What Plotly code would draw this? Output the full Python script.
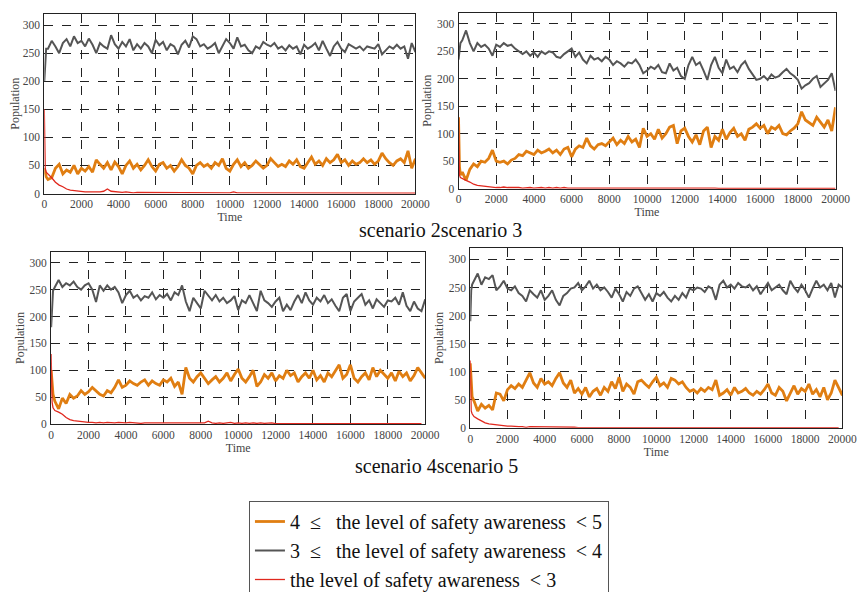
import plotly.graph_objects as go

# Sampling times (shared by all series)
time = [0, 50, 100] + list(range(200, 20001, 200))

# ---------------- scenario 2 ----------------
s2_orange = [45, 38, 30,
    25, 28, 45, 52, 35, 42, 38, 50, 35, 45, 40, 48, 38, 60, 52, 45, 55, 42, 56, 48,
    35, 50, 58, 45, 52, 42, 50, 60, 48, 40, 52, 55, 45, 50, 40, 48, 60, 50, 45, 35,
    50, 55, 48, 52, 45, 55, 50, 62, 45, 40, 52, 60, 48, 55, 45, 50, 58, 52, 45, 50,
    62, 55, 48, 52, 48, 58, 52, 60, 48, 45, 55, 65, 52, 58, 50, 62, 55, 60, 70, 55,
    60, 50, 58, 52, 55, 62, 55, 60, 52, 58, 72, 62, 55, 50, 58, 62, 55, 76, 45, 62]
s2_gray = [200, 245, 258,
    258, 272, 262, 250, 268, 275, 262, 280, 268, 272, 262, 276, 265, 250, 268, 262,
    258, 282, 266, 258, 270, 262, 275, 255, 266, 258, 268, 262, 250, 274, 264, 270,
    255, 266, 262, 248, 265, 272, 260, 280, 275, 262, 266, 258, 262, 268, 250, 262,
    275, 268, 258, 278, 262, 265, 255, 250, 262, 258, 270, 265, 262, 268, 258, 262,
    255, 264, 258, 262, 248, 265, 258, 262, 268, 255, 272, 258, 245, 262, 270, 258,
    252, 266, 262, 258, 262, 255, 262, 260, 258, 266, 248, 255, 262, 258, 265, 258,
    262, 240, 268, 252]
s2_red = [150, 45, 38,
    35, 28, 20, 15, 12, 8, 6, 5, 4, 4, 3, 3, 3, 2, 3, 4, 8, 4, 3, 2, 2, 3, 2, 1,
    2, 2, 1, 2, 1, 2, 1, 1, 2, 1, 1, 2, 1, 1, 1, 2, 1, 1, 1, 1, 1, 1, 1, 1, 2, 1,
    3, 1, 1, 1, 1, 0.5, 0.5, 0.5, 0.5, 0.5, 0.5, 0.5, 0.5, 0.5, 0.5, 0.5, 0.5, 0.5,
    0.5, 0.5, 0.5, 0.5, 0.5, 0.5, 0.5, 0.5, 0.5, 0.5, 0.5, 0.5, 0.5, 0.5, 0.5, 0.5,
    0.5, 0.5, 0.5, 0.5, 0.5, 0.5, 0.5, 0.5, 0.5, 0.5, 0.5, 0.5, 0.5, 0.5, 0.5, 0.5]

# ---------------- scenario 3 ----------------
s3_orange = [130, 40, 25,
    30, 15, 35, 45, 40, 50, 48, 55, 70, 50, 48, 50, 45, 52, 55, 62, 60, 68, 65, 62,
    70, 65, 68, 72, 65, 70, 62, 72, 75, 58, 72, 78, 75, 92, 78, 72, 80, 82, 78, 85,
    92, 80, 88, 82, 95, 85, 90, 75, 110, 95, 100, 90, 108, 92, 100, 112, 115, 82,
    105, 110, 95, 85, 98, 80, 105, 112, 75, 95, 88, 108, 90, 102, 110, 95, 100, 88,
    108, 112, 118, 110, 115, 100, 112, 108, 115, 100, 98, 105, 110, 118, 140, 125,
    120, 115, 130, 122, 112, 125, 105, 148]
s3_gray = [235, 258, 265,
    270, 288, 265, 250, 265, 258, 262, 255, 242, 262, 258, 265, 260, 262, 255, 250,
    245, 250, 242, 248, 240, 250, 245, 250, 248, 240, 238, 245, 250, 255, 240, 248,
    235, 228, 242, 235, 238, 232, 240, 235, 225, 232, 228, 222, 230, 228, 235, 225,
    210, 215, 222, 218, 225, 212, 210, 228, 215, 220, 205, 200, 225, 240, 225, 230,
    215, 198, 225, 240, 220, 210, 235, 218, 222, 212, 225, 232, 218, 208, 198, 200,
    205, 198, 208, 202, 205, 212, 218, 210, 205, 198, 182, 188, 192, 200, 205, 185,
    192, 198, 210, 178]
s3_red = [130, 25, 20,
    18, 15, 12, 8, 6, 5, 4, 3, 3, 2, 2, 3, 2, 2, 3, 2, 1, 2, 2, 1, 2, 2, 1, 2, 1,
    2, 1, 2, 1, 1, 2, 1, 1, 2, 1, 1, 2, 1, 1, 1, 1, 2, 1, 1, 1, 1, 1, 1, 1, 1, 1,
    1, 1, 1, 1, 1, 1, 1, 1, 1, 1, 1, 1, 1, 1, 1, 1, 1, 0.5, 0.5, 0.5, 0.5, 0.5,
    0.5, 0.5, 0.5, 0.5, 0.5, 0.5, 0.5, 0.5, 0.5, 0.5, 0.5, 0.5, 0.5, 0.5, 0.5, 0.5,
    0.5, 0.5, 0.5, 0.5, 0.5, 0.5, 0.5, 0.5, 0.5, 0.5, 0.5]

# ---------------- scenario 4 ----------------
s4_orange = [100, 80, 55,
    42, 28, 48, 38, 55, 48, 52, 62, 55, 60, 68, 62, 55, 52, 62, 58, 68, 82, 68, 72,
    80, 75, 72, 78, 82, 72, 80, 75, 72, 82, 78, 85, 70, 78, 55, 105, 85, 78, 88, 95,
    85, 75, 82, 88, 78, 85, 95, 80, 92, 102, 85, 78, 88, 100, 70, 78, 92, 85, 95, 80,
    90, 85, 100, 90, 95, 78, 88, 95, 85, 100, 82, 90, 78, 95, 88, 98, 110, 85, 92,
    110, 85, 78, 88, 95, 82, 105, 88, 100, 92, 85, 95, 80, 98, 88, 95, 80, 90, 105,
    95, 85]
s4_gray = [180, 230, 248,
    255, 268, 255, 262, 258, 265, 255, 250, 258, 262, 250, 227, 258, 248, 258, 250,
    255, 245, 225, 240, 248, 235, 240, 230, 238, 235, 245, 232, 240, 235, 242, 230,
    245, 240, 258, 228, 210, 235, 225, 215, 248, 238, 230, 240, 228, 235, 225, 230,
    238, 212, 230, 225, 240, 225, 210, 248, 230, 225, 218, 228, 235, 210, 222, 212,
    228, 240, 225, 245, 230, 222, 235, 228, 240, 225, 232, 220, 210, 235, 242, 210,
    228, 235, 242, 222, 230, 215, 232, 225, 218, 230, 228, 235, 222, 245, 220, 210,
    228, 215, 210, 232]
s4_red = [130, 40, 30,
    25, 22, 18, 12, 8, 6, 5, 4, 3, 3, 3, 2, 3, 2, 3, 2, 2, 3, 2, 2, 3, 2, 2, 1, 2,
    2, 1, 2, 1, 2, 2, 1, 2, 1, 2, 1, 2, 1, 2, 1, 2, 5, 2, 1, 2, 1, 2, 3, 1, 2, 1,
    2, 1, 2, 1, 2, 1, 2, 2, 0.5, 0.5, 0.5, 0.5, 0.5, 0.5, 0.5, 0.5, 0.5, 0.5, 0.5,
    0.5, 0.5, 0.5, 0.5, 0.5, 0.5, 0.5, 0.5, 0.5, 0.5, 0.5, 0.5, 0.5, 0.5, 0.5, 0.5,
    0.5, 0.5, 0.5, 0.5, 0.5, 0.5, 0.5, 0.5, 0.5, 0.5, 0.5, 0.5, 0.5]

# ---------------- scenario 5 ----------------
s5_orange = [115, 80, 55,
    48, 30, 42, 35, 40, 32, 62, 60, 48, 68, 75, 70, 78, 72, 85, 98, 80, 72, 88, 78,
    82, 75, 88, 98, 80, 72, 85, 62, 70, 60, 72, 55, 65, 70, 58, 72, 65, 82, 70, 90,
    65, 78, 72, 60, 82, 85, 78, 72, 82, 90, 75, 80, 72, 88, 85, 78, 82, 72, 65, 68,
    62, 70, 65, 72, 68, 85, 58, 62, 68, 58, 72, 62, 65, 70, 62, 58, 65, 60, 68, 78,
    62, 58, 72, 65, 48, 62, 75, 60, 70, 65, 78, 60, 68, 55, 72, 50, 62, 85, 70, 58]
s5_gray = [190, 245, 255,
    262, 275, 255, 268, 265, 272, 245, 252, 262, 248, 245, 252, 240, 235, 225, 245,
    238, 232, 245, 228, 235, 245, 228, 218, 235, 240, 248, 250, 258, 245, 252, 262,
    248, 255, 245, 250, 242, 232, 248, 238, 225, 242, 235, 248, 252, 240, 228, 238,
    225, 240, 235, 242, 232, 225, 235, 228, 240, 232, 248, 245, 250, 248, 242, 252,
    248, 228, 255, 262, 250, 255, 248, 258, 252, 250, 255, 245, 252, 238, 248, 258,
    245, 250, 255, 245, 238, 262, 250, 242, 255, 245, 232, 248, 262, 250, 255, 245,
    258, 232, 255, 250]
s5_red = [120, 30, 25,
    20, 16, 12, 9, 7, 6, 5, 4, 4, 3, 3, 2, 2, 2, 1, 2, 2, 1, 2, 1, 2, 2, 1, 2, 1,
    1, 2, 1, 0.5, 0.5, 0.5, 0.5, 0.5, 0.5, 0.5, 0.5, 0.5, 0.5, 0.5, 0.5, 0.5, 0.5,
    0.5, 0.5, 0.5, 0.5, 0.5, 0.5, 0.5, 0.5, 0.5, 0.5, 0.5, 0.5, 0.5, 0.5, 0.5, 0.5,
    0.5, 0.5, 0.5, 0.5, 0.5, 0.5, 0.5, 0.5, 0.5, 0.5, 0.5, 0.5, 0.5, 0.5, 0.5, 0.5,
    0.5, 0.5, 0.5, 0.5, 0.5, 0.5, 0.5, 0.5, 0.5, 0.5, 0.5, 0.5, 0.5, 0.5, 0.5, 0.5,
    0.5, 0.5, 0.5, 0.5, 0.5, 0.5, 0.5, 0.5, 0.5]

series_names = ["4\u2002≤\u00a0\u00a0\u00a0the level of safety awareness\u2002&lt;\u00a05",
                "3\u2002≤\u00a0\u00a0\u00a0the level of safety awareness\u2002&lt;\u00a04",
                "the level of safety awareness\u2002&lt;\u00a03"]
titles = ["scenario 2scenario 3", "scenario 4scenario 5"]
x_ticks = list(range(0, 20001, 2000))
x_tick_labels = [str(v) for v in x_ticks]
y_ticks = list(range(0, 301, 50))
y_tick_labels = [str(v) for v in y_ticks]

W, H = 867, 592
FONT = "Times New Roman, Liberation Serif, serif"
ORANGE, GRAY, RED = "#E07E12", "#555555", "#E0281E"

panels = [
    (s2_orange, s2_gray, s2_red, (34, 413, 6, 190)),
    (s3_orange, s3_gray, s3_red, (457, 842, 5, 185)),
    (s4_orange, s4_gray, s4_red, (41, 423, 250, 426)),
    (s5_orange, s5_gray, s5_red, (469, 849, 246, 430)),
]

fig = go.Figure()
layout = dict(
    width=W, height=H, margin=dict(l=0, r=0, t=0, b=0),
    paper_bgcolor="white", plot_bgcolor="white",
    font=dict(family=FONT, size=11, color="#333333"),
    showlegend=True,
    legend=dict(x=243 / W, y=1 - 505 / H, xanchor="left", yanchor="top",
                bordercolor="#555555", borderwidth=1, bgcolor="white",
                font=dict(family=FONT, size=20, color="#111111"),
                tracegroupgap=0, itemwidth=30),
)

for i, (orange, gray, red, (x0, x1, y0, y1)) in enumerate(panels):
    n = i + 1
    xa = "x" if n == 1 else f"x{n}"
    ya = "y" if n == 1 else f"y{n}"
    for vals, color, width, name in [(orange, ORANGE, 2.8, series_names[0]),
                                     (gray, GRAY, 2.0, series_names[1]),
                                     (red, RED, 1.3, series_names[2])]:
        fig.add_trace(go.Scatter(x=time, y=vals, mode="lines", name=name,
                                 line=dict(color=color, width=width),
                                 xaxis=xa, yaxis=ya, legendgroup=name,
                                 showlegend=(n == 1)))
    axis_common = dict(showgrid=True, gridcolor="#222222", griddash="dash",
                       gridwidth=1, showline=True, linecolor="#222222",
                       linewidth=1, mirror=True, zeroline=False,
                       ticks="", tickfont=dict(family=FONT, size=11.5, color="#444444"))
    layout["xaxis" if n == 1 else f"xaxis{n}"] = dict(
        domain=[x0 / W, x1 / W], range=[0, 20000], tickvals=x_ticks,
        ticktext=x_tick_labels,
        anchor=ya, title=dict(text="Time", standoff=0,
                              font=dict(family=FONT, size=12, color="#444444")),
        **axis_common)
    layout["yaxis" if n == 1 else f"yaxis{n}"] = dict(
        domain=[1 - y1 / H, 1 - y0 / H], range=[0, 320], tickvals=y_ticks,
        ticktext=y_tick_labels,
        anchor=xa, ticklabelstandoff=1,
        title=dict(text="Population", standoff=2,
                   font=dict(family=FONT, size=12, color="#444444")),
        **axis_common)

annotations = [
    dict(text=titles[0], x=439 / W, y=1 - 227 / H, xref="paper", yref="paper",
         xanchor="center", yanchor="middle",
         showarrow=False, font=dict(family=FONT, size=20, color="#111111")),
    dict(text=titles[1], x=435 / W, y=1 - 469 / H, xref="paper", yref="paper",
         xanchor="center", yanchor="middle",
         showarrow=False, font=dict(family=FONT, size=20, color="#111111")),
]
layout["annotations"] = annotations
fig.update_layout(**layout)
fig.write_html("out.html")
